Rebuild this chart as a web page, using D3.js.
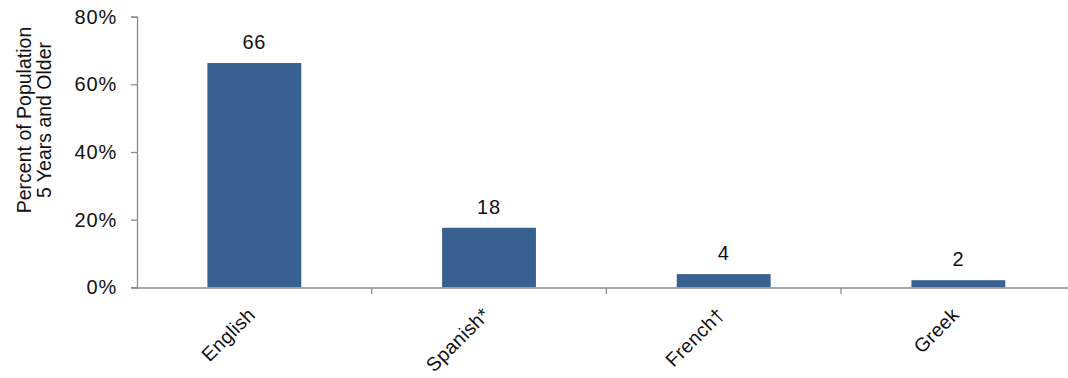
<!DOCTYPE html>
<html><head><meta charset="utf-8">
<script src="https://cdn.jsdelivr.net/npm/d3@7"></script>
<style>body{margin:0;background:#fff}svg{display:block}text{font-family:"Liberation Sans",Arial,Helvetica,sans-serif;fill:#111}</style>
</head><body><svg id="c" width="1068" height="378"></svg>
<script>
const categories = ["English", "Spanish*", "French†", "Greek"];
const values = [66.3, 17.6, 3.9, 2.1];
const valueLabels = ["66", "18", "4", "2"];
const yTicks = [0, 20, 40, 60, 80];
const yTitle = ["Percent of Population", "5 Years and Older"];

const svg = d3.select("#c");
const x0 = 137, x1 = 1075.7, yTop = 16.7, yBot = 287.3;
const x = d3.scaleBand().domain(categories).range([x0, x1]).paddingInner(0.6).paddingOuter(0.3);
const band = d3.scaleBand().domain(categories).range([x0, x1]);
const y = d3.scaleLinear().domain([0, 80]).range([yBot, yTop]);
const axisColor = "#8a8a8a";

// y axis
const ya = svg.append("g").attr("transform", `translate(${x0},0)`)
  .call(d3.axisLeft(y).tickValues(yTicks).tickFormat(d => d + "%").tickSize(6).tickPadding(14));
ya.select(".domain").attr("stroke", axisColor).attr("stroke-width", 1.3);
ya.selectAll(".tick line").attr("stroke", axisColor).attr("stroke-width", 1.3);
ya.selectAll(".tick text").attr("font-size", 20).attr("letter-spacing", 0.8).attr("fill", "#111")
  .style("font-family", '"Liberation Sans",Arial,sans-serif');

// bars
svg.append("g").selectAll("rect").data(categories).join("rect")
  .attr("x", d => x(d)).attr("width", x.bandwidth())
  .attr("y", (d, i) => y(values[i])).attr("height", (d, i) => yBot - y(values[i]))
  .attr("fill", "#386192");

// x axis
const xa = svg.append("g").attr("transform", `translate(0,${yBot + 0.7})`);
xa.append("line").attr("x1", x0 - 5).attr("x2", x1).attr("stroke", axisColor).attr("stroke-width", 1.3);
xa.selectAll("line.t").data(categories.slice(1)).join("line").attr("class", "t")
  .attr("x1", d => band(d)).attr("x2", d => band(d)).attr("y1", 0).attr("y2", 6)
  .attr("stroke", axisColor).attr("stroke-width", 1.3);

// x labels
svg.append("g").selectAll("text").data(categories).join("text")
  .attr("transform", d => `translate(${band(d) + band.bandwidth() / 2 + 2},316) rotate(-45)`)
  .attr("text-anchor", "end").attr("font-size", 19.5).attr("letter-spacing", 0.3).text(d => d);

// value labels
svg.append("g").selectAll("text").data(categories).join("text")
  .attr("x", d => x(d) + x.bandwidth() / 2).attr("y", (d, i) => y(values[i]) - 14)
  .attr("text-anchor", "middle").attr("font-size", 20).attr("letter-spacing", 0.8)
  .text((d, i) => valueLabels[i]);

// y title
svg.append("text").attr("transform", "translate(31,120) rotate(-90)")
  .attr("text-anchor", "middle").attr("font-size", 19.5)
  .selectAll("tspan").data(yTitle).join("tspan")
  .attr("x", 0).attr("dy", (d, i) => i === 0 ? 0 : 20).text(d => d);
</script></body></html>
